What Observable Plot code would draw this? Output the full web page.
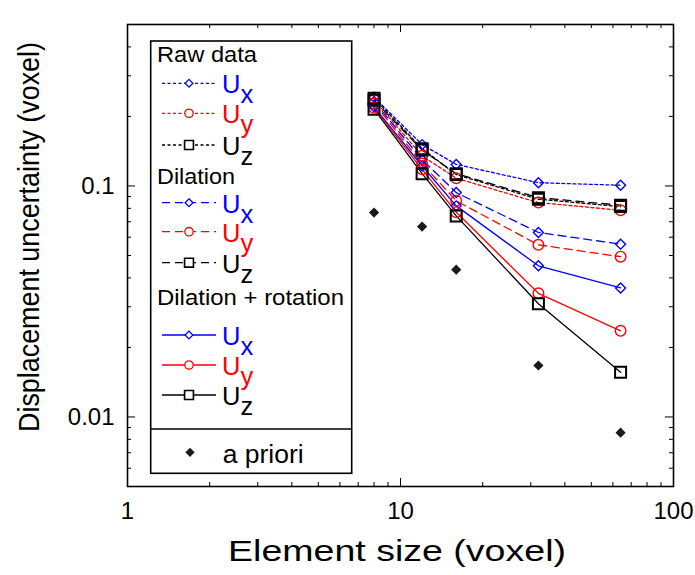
<!DOCTYPE html>
<html><head><meta charset="utf-8">
<script src="https://cdn.jsdelivr.net/npm/d3@7"></script>
<script src="https://cdn.jsdelivr.net/npm/@observablehq/plot@0.6"></script>
<style>
body{margin:0;background:#fff}
svg{font-family:"Liberation Sans",Arial,sans-serif}
</style>
</head><body><div id="chart"></div>
<script>
// ---- data ----
const sizes   = [8, 12, 16, 32, 64];
const rawUx   = [0.242, 0.151, 0.124, 0.1033, 0.1007];
const rawUy   = [0.236, 0.135, 0.108, 0.0847, 0.0785];
const rawUz   = [0.240, 0.145, 0.112, 0.0876, 0.0814];
const dilUx   = [0.232, 0.130, 0.0936, 0.0629, 0.056];
const dilUy   = [0.228, 0.125, 0.0862, 0.0556, 0.0494];
const dilUz   = [0.235, 0.143, 0.113, 0.089, 0.0825];
const rotUx   = [0.220, 0.122, 0.082, 0.0451, 0.0362];
const rotUy   = [0.218, 0.118, 0.077, 0.0343, 0.0236];
const rotUz   = [0.215, 0.113, 0.0742, 0.0309, 0.0156];
const aPriori = [0.0767, 0.0667, 0.0434, 0.0167, 0.00855];
const xMajorTicks = [1, 10, 100];
const xMinorTicks = [2, 3, 4, 5, 6, 7, 8, 9, 20, 30, 40, 50, 60, 70, 80, 90];
const yMajorTicks = [0.01, 0.1];
const yMinorTicks = [0.006, 0.007, 0.008, 0.009, 0.02, 0.03, 0.04, 0.05, 0.06, 0.07, 0.08, 0.09, 0.2, 0.3, 0.4];
const groupNames = ["Raw data", "Dilation", "Dilation + rotation"];
const compNames = ["x", "y", "z"];
const xLabel = "Element size (voxel)";
const yLabel = "Displacement uncertainty (voxel)";
const aPrioriName = "a priori";

// ---- styles ----
const compColor = ["#0000ff", "#ff0000", "#000000"];
const compSymbol = ["diamond2", "circle", "square"];
const compR = [4.5, 5.3, 6.2];
const compSW = [1.4, 1.4, 2];
const groupDash = ["3,2.5", "8,5", null];

const seriesList = [
  {g: 0, c: 0, v: rawUx}, {g: 0, c: 1, v: rawUy}, {g: 0, c: 2, v: rawUz},
  {g: 1, c: 0, v: dilUx}, {g: 1, c: 1, v: dilUy}, {g: 1, c: 2, v: dilUz},
  {g: 2, c: 0, v: rotUx}, {g: 2, c: 1, v: rotUy}, {g: 2, c: 2, v: rotUz}
];

const W = 695, H = 575, mL = 127, mR = 22, mT = 24, mB = 89;
const pw = W - mL - mR, ph = H - mT - mB;
const tickMaj = 8, tickMin = 4;

const marks = [];
// ticks (inward, mirrored)
marks.push(
  Plot.tickX(xMajorTicks, {x: d => d, insetTop: ph - tickMaj, stroke: "black"}),
  Plot.tickX(xMinorTicks, {x: d => d, insetTop: ph - tickMin, stroke: "black"}),
  Plot.tickX(xMajorTicks, {x: d => d, insetBottom: ph - tickMaj, stroke: "black"}),
  Plot.tickX(xMinorTicks, {x: d => d, insetBottom: ph - tickMin, stroke: "black"}),
  Plot.tickY(yMajorTicks, {y: d => d, insetRight: pw - tickMaj, stroke: "black"}),
  Plot.tickY(yMinorTicks, {y: d => d, insetRight: pw - tickMin, stroke: "black"}),
  Plot.tickY(yMajorTicks, {y: d => d, insetLeft: pw - tickMaj, stroke: "black"}),
  Plot.tickY(yMinorTicks, {y: d => d, insetLeft: pw - tickMin, stroke: "black"}),
  Plot.axisX(xMajorTicks, {anchor: "bottom", tickSize: 0, tickPadding: 15, fontSize: 24, tickFormat: d => String(d), label: null, fill: "black"}),
  Plot.axisY(yMajorTicks, {anchor: "left", tickSize: 0, tickPadding: 13, fontSize: 24, tickFormat: d => String(d), label: null, fill: "black"})
);
// series
for (const s of seriesList) {
  const rows = sizes.map((x, i) => ({x, y: s.v[i]}));
  marks.push(Plot.line(rows, {x: "x", y: "y", stroke: compColor[s.c], strokeWidth: 1.3, strokeDasharray: groupDash[s.g]}));
}
for (const s of seriesList) {
  const rows = sizes.map((x, i) => ({x, y: s.v[i]}));
  marks.push(Plot.dot(rows, {x: "x", y: "y", symbol: compSymbol[s.c], r: compR[s.c], stroke: compColor[s.c], strokeWidth: compSW[s.c], fill: "none"}));
}
marks.push(Plot.dot(sizes.map((x, i) => ({x, y: aPriori[i]})), {x: "x", y: "y", symbol: "diamond2", r: 4.6, fill: "#1a1a1a", stroke: "none"}));
marks.push(Plot.frame({stroke: "black", strokeWidth: 1.6}));

const chart = Plot.plot({
  width: W, height: H,
  marginLeft: mL, marginRight: mR, marginTop: mT, marginBottom: mB,
  style: {background: "white", color: "black", fontFamily: "'Liberation Sans', Arial, sans-serif"},
  x: {type: "log", domain: [1, 100], axis: null},
  y: {type: "log", domain: [0.005, 0.5], axis: null},
  marks
});
document.getElementById("chart").appendChild(chart);

// ---- axis titles & legend ----
const svg = d3.select(chart);
svg.append("text").text(xLabel)
  .attr("x", 397).attr("y", 561).attr("text-anchor", "middle")
  .attr("font-size", 30).attr("fill", "black")
  .attr("textLength", 338).attr("lengthAdjust", "spacingAndGlyphs");
svg.append("text").text(yLabel)
  .attr("transform", "translate(39,237) rotate(-90)").attr("text-anchor", "middle")
  .attr("font-size", 30).attr("fill", "black")
  .attr("textLength", 390).attr("lengthAdjust", "spacingAndGlyphs");

const lg = svg.append("g").attr("text-anchor", "start");
lg.append("rect").attr("x", 150.7).attr("y", 41).attr("width", 201).attr("height", 432.3)
  .attr("fill", "white").attr("stroke", "black").attr("stroke-width", 1.6);
lg.append("line").attr("x1", 150.7).attr("x2", 351.7).attr("y1", 429).attr("y2", 429)
  .attr("stroke", "black").attr("stroke-width", 1.6);

const headY = [62.3, 184, 305];
const headLen = [100, 78, 187];
const rowY = [[83.3, 113.3, 145], [202.7, 231.7, 262.7], [335, 365, 395]];
const symFn = {diamond2: d3.symbolDiamond2, circle: d3.symbolCircle, square: d3.symbolSquare};
const legR = [3.5, 4.2, 5];
groupNames.forEach((name, g) => {
  lg.append("text").text(name).attr("x", 157).attr("y", headY[g])
    .attr("text-anchor", "start")
    .attr("font-size", 22).attr("fill", "black")
    .attr("textLength", headLen[g]).attr("lengthAdjust", "spacingAndGlyphs");
  compNames.forEach((cn, c) => {
    const y = rowY[g][c];
    lg.append("line").attr("x1", 162).attr("x2", 216).attr("y1", y).attr("y2", y)
      .attr("stroke", compColor[c]).attr("stroke-width", 1.3)
      .attr("stroke-dasharray", groupDash[g]);
    lg.append("path").attr("transform", `translate(189,${y})`)
      .attr("d", d3.symbol(symFn[compSymbol[c]], Math.PI * legR[c] * legR[c])())
      .attr("fill", "white").attr("stroke", compColor[c]).attr("stroke-width", c === 2 ? 1.6 : 1.3);
    const t = lg.append("text").attr("x", 222).attr("y", y + 10)
      .attr("text-anchor", "start")
      .attr("font-size", 25.5).attr("fill", compColor[c]);
    t.append("tspan").text("U");
    t.append("tspan").text(cn).attr("dy", 10);
  });
});
lg.append("path").attr("transform", "translate(190,452.3)")
  .attr("d", d3.symbol(d3.symbolDiamond2, Math.PI * 4.2 * 4.2)())
  .attr("fill", "#1a1a1a");
lg.append("text").text(aPrioriName).attr("x", 222.7).attr("y", 463.3)
  .attr("text-anchor", "start")
  .attr("font-size", 25).attr("fill", "black")
  .attr("textLength", 81).attr("lengthAdjust", "spacingAndGlyphs");
</script>
</body></html>
